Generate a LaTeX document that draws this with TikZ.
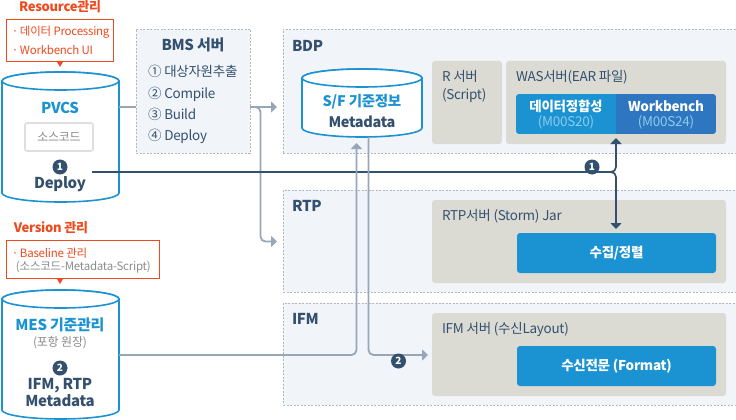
\documentclass[tikz,border=0pt]{standalone}
\usepackage{fontspec}
\setmainfont[LetterSpace=-2.0]{Noto Sans CJK KR}
\usetikzlibrary{arrows.meta}
\definecolor{boxbg}{HTML}{F1F4F8}
\definecolor{boxline}{HTML}{B4B8BC}
\definecolor{srvbg}{HTML}{DBDBD3}
\definecolor{skyblue}{HTML}{1B92D1}
\definecolor{deepblue}{HTML}{2F76C0}
\definecolor{paleblue}{HTML}{8CCBEC}
\definecolor{navy}{HTML}{34506F}
\definecolor{greyline}{HTML}{97A7B8}
\definecolor{redorange}{HTML}{EF4A1E}
\definecolor{softgrey}{HTML}{8C8C8C}
\newcommand{\fs}[1]{\fontsize{#1}{#1}\selectfont}
% name, centre x, top y, bottom y, half width
\newcommand{\drumat}[5]{%
    \node[minimum width={2*#5 pt},minimum height={(#4-#3+18)*1pt}] (#1) at (#2,{(#3+#4)/2}) {};
    \filldraw[drumline] (#2-#5,#3) arc[start angle=180,end angle=0,x radius=#5 pt,y radius=9pt]
        -- (#2+#5,#4) arc[start angle=0,end angle=-180,x radius=#5 pt,y radius=9pt] -- cycle;
    \draw[drumline] (#2,#3) ellipse[x radius=#5 pt,y radius=9pt];
}
\begin{document}
\begin{tikzpicture}[x=1pt,y=-1pt,
    every node/.style={inner sep=0,outer sep=0,text=navy},
    zone/.style={draw=boxline,fill=boxbg,line width=.7pt,dash pattern=on 2pt off 1.5pt,minimum width=453pt},
    srv/.style={fill=srvbg,rounded corners=3pt},
    bluebox/.style={fill=skyblue,rounded corners=3pt,minimum width=199pt,minimum height=40pt,text=white,font=\fs{13.5}\bfseries},
    drumline/.style={draw=skyblue,fill=white,line width=1.6pt},
    note/.style={draw=redorange,fill=white,line width=.9pt},
    notetext/.style={anchor=west,text=redorange,font=\fs{11.5}},
    title/.style={text=redorange,font=\fs{13}\bfseries},
    head/.style={font=\fs{15}\bfseries},
    info/.style={font=\fs{13.5}},
    badge/.style={circle,fill=navy,minimum size=15pt,text=white,font=\fs{10}\bfseries},
    greyarrow/.style={draw=greyline,line width=1.8pt,rounded corners=5pt,-{Triangle[width=11pt,length=6pt]}},
    navyarrow/.style={draw=navy,line width=1.7pt,rounded corners=5pt,-{Triangle[width=11pt,length=6pt]}}]
    \useasboundingbox (0,0) rectangle (736,420);
    % zones
    \node[zone,minimum width=114pt,minimum height=124pt] (bms) at (193,91) {};
    \node[zone,minimum height=124pt] (bdp) at (509.5,91) {};
    \node[zone,minimum height=102pt] (rtp) at (509.5,241) {};
    \node[zone,minimum height=102pt] (ifm) at (509.5,354) {};
    \node[head] at (193,45) {BMS 서버};
    \node[head,anchor=west] at (292,46) {BDP};
    \node[head,anchor=west] at (292,206) {RTP};
    \node[head,anchor=west] at (292,319) {IFM};
    \node[info,anchor=base west] at (148,77) {① 대상자원추출};
    \node[info,anchor=base west] at (148,98) {② Compile};
    \node[info,anchor=base west] at (148,119) {③ Build};
    \node[info,anchor=base west] at (148,140) {④ Deploy};
    % servers
    \node[srv,minimum width=70pt,minimum height=83pt] (rsrv) at (467,102.5) {};
    \node[srv,minimum width=220pt,minimum height=83pt] (was) at (616,102.5) {};
    \node[srv,minimum width=294pt,minimum height=83pt] (rtpsrv) at (579,241.5) {};
    \node[srv,minimum width=294pt,minimum height=83pt] (ifmsrv) at (579,354.5) {};
    \node[anchor=north west,align=left,font=\fontsize{13.5}{18}\selectfont] at (442,70) {R 서버\\(Script)};
    \node[info,anchor=west] at (516,77) {WAS서버(EAR 파일)};
    \node[info,anchor=west] at (442,216) {RTP서버 (Storm) Jar};
    \node[info,anchor=west] at (442,329) {IFM 서버 (수신Layout)};
    \begin{scope}
        \clip[rounded corners=3pt] (516,94) rectangle (716,134);
        \node[fill=skyblue,minimum width=100pt,minimum height=40pt] (dq) at (566,114) {};
        \node[fill=deepblue,minimum width=100pt,minimum height=40pt] (wb) at (666,114) {};
    \end{scope}
    \node[text=white,font=\fs{13.5}\bfseries] at (566,106) {데이터정합성};
    \node[text=white,font=\fs{13.5}\bfseries] at (666,106) {Workbench};
    \node[text=paleblue,font=\fs{13.5}] at (566,122) {(M00S20)};
    \node[text=paleblue,font=\fs{13.5}] at (666,122) {(M00S24)};
    \node[bluebox] (collect) at (616.5,253) {수집/정렬};
    \node[bluebox] (format) at (616.5,366) {수신전문 (Format)};
    % drums
    \drumat{pvcs}{60.5}{81}{193}{58.5}
    \drumat{mes}{60.5}{299}{410}{58.5}
    \drumat{sf}{362}{78}{128}{60}
    \node[text=skyblue,font=\fs{15}\bfseries] at (60,108) {PVCS};
    \node[draw=black!13,line width=1.6pt,rounded corners=2pt,minimum width=68pt,minimum height=28pt,text=softgrey,font=\fs{12}] (src) at (59,137) {소스코드};
    \node[badge] (b1) at (60,167) {1};
    \node[font=\fs{15}\bfseries] at (60,184) {Deploy};
    \node[text=skyblue,font=\fs{15}\bfseries] at (60,325) {MES 기준관리};
    \node[text=softgrey,font=\fs{12}] at (60,343) {(포항 원장)};
    \node[badge] (b2) at (60,368) {2};
    \node[align=center,font=\fontsize{15}{17}\bfseries\selectfont] at (60,393) {IFM, RTP\\Metadata};
    \node[text=skyblue,font=\fs{14.5}\bfseries] at (362,102) {S/F 기준정보};
    \node[font=\fs{14.5}\bfseries] at (362,122) {Metadata};
    % notes
    \node[title] at (60,7) {Resource관리};
    \node[note,anchor=north west,minimum width=107pt,minimum height=42pt] (resnote) at (6,19) {};
    \node[notetext] at (12,32) {·\hspace{1.5pt}데이터 Processing};
    \node[notetext] at (12,50) {·\hspace{1.5pt}Workbench UI};
    \node[title] at (51,228) {Version 관리};
    \node[note,anchor=north west,minimum width=153pt,minimum height=38pt] (vernote) at (6,240) {};
    \node[notetext] at (12,253) {·\hspace{1.5pt}Baseline 관리};
    \node[notetext,text=softgrey] at (16,267) {(소스코드-Metadata-Script)};
    \fill[redorange] (56.5,61) -- (63.5,61) -- (60,67) -- cycle;
    \fill[redorange] (56.5,278) -- (63.5,278) -- (60,284) -- cycle;
    % links
    \coordinate (bmsin) at (136,107);
    \coordinate (bmsout) at (250,107);
    \coordinate (bdpin) at (277,107);
    \coordinate (rtpin) at (277,241.5);
    \coordinate (deploy) at (92,172);
    \coordinate (wasin) at (616,138);
    \coordinate (rtpdown) at (616,229);
    \coordinate (sfin) at (356.5,143);
    \coordinate (mesout) at (119,355);
    \coordinate (sfout) at (368.5,137);
    \coordinate (ifmin) at (428,355);
    \draw[draw=greyline,line width=1.8pt] (pvcs.east |- bmsin) -- (bmsin);
    \draw[greyarrow] (bmsout) -- (bdpin);
    \draw[greyarrow] (bmsout) -| (260.5,200) |- (rtpin);
    \draw[navyarrow] (deploy) -| (wasin);
    \draw[navyarrow] (deploy) -| (rtpdown);
    \draw[greyarrow] (mesout) -| (sfin);
    \draw[greyarrow] (sfout) |- (ifmin);
    \node[badge] (n1) at (592,167) {1};
    \node[badge] (n2) at (398.5,361) {2};
\end{tikzpicture}
\end{document}
